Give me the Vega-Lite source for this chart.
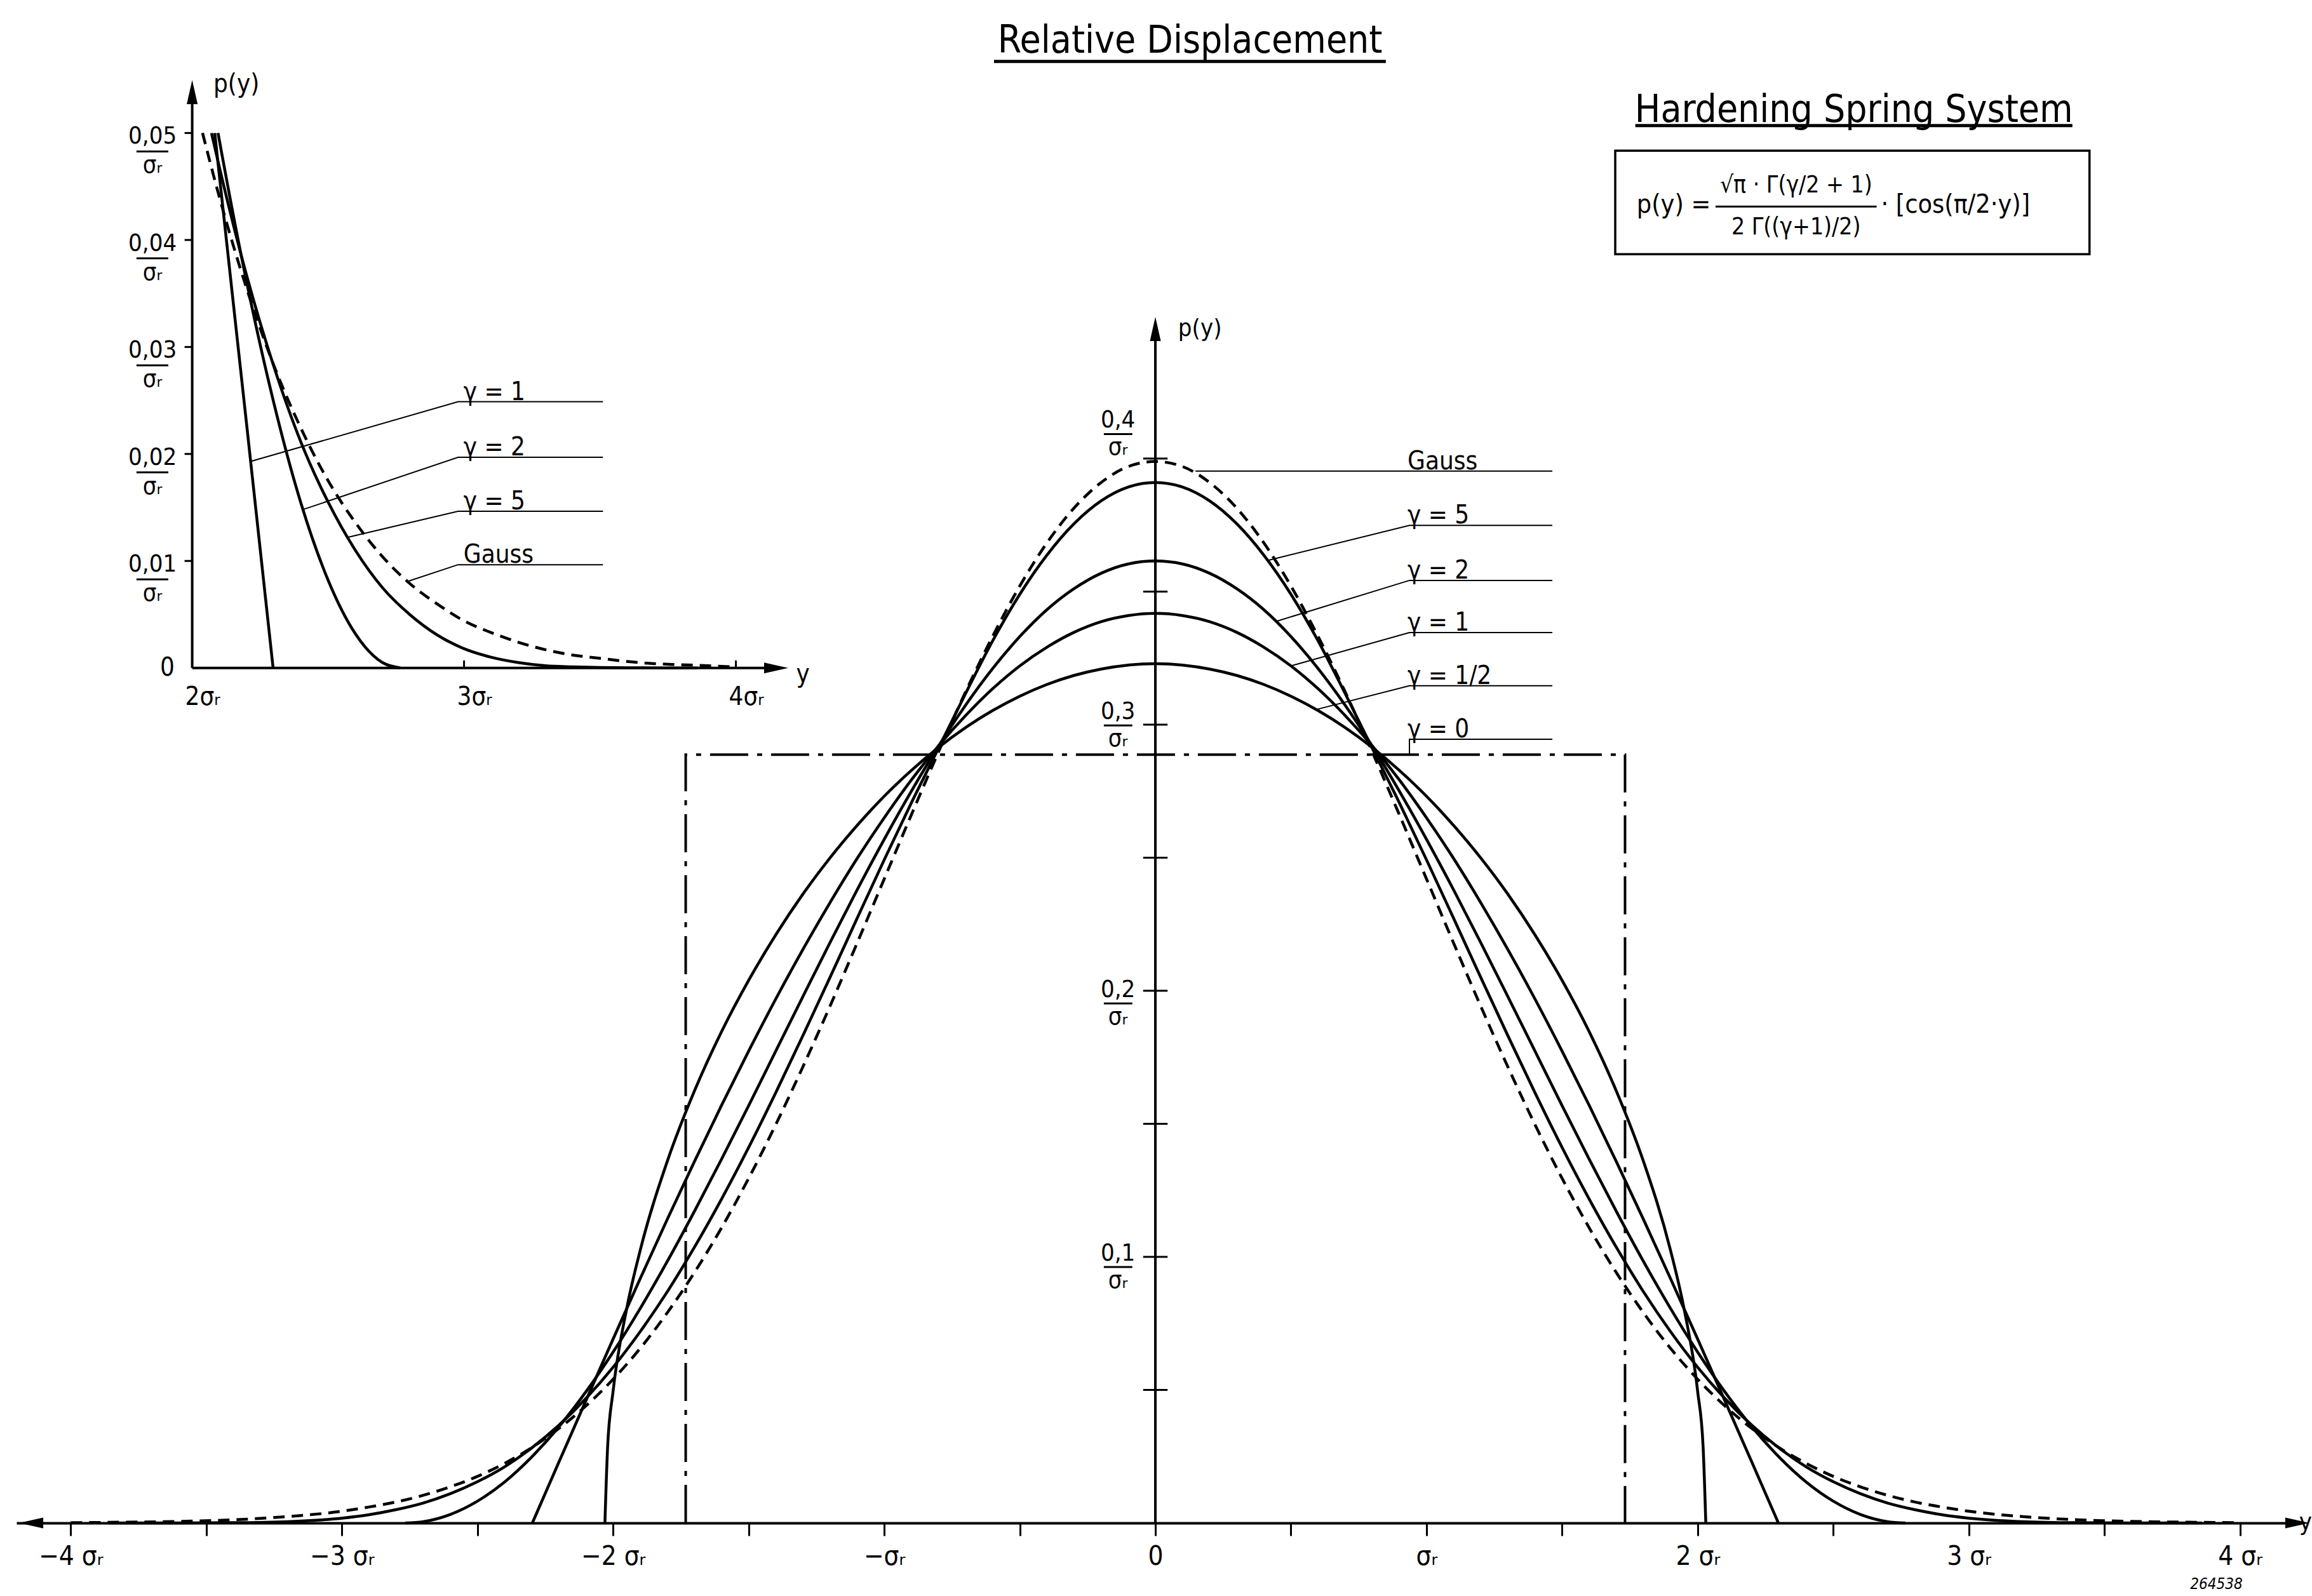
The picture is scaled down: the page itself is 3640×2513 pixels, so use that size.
{
"$schema": "https://vega.github.io/schema/vega-lite/v6.json",
"width": 3586, "height": 2338,
"autosize": {"type": "none"},
"padding": {"left": 26, "top": 60, "right": 28, "bottom": 115},
"background": "white",
"config": {
 "view": {"stroke": null},
 "text": {"font": "DejaVu Sans Condensed, Liberation Sans Narrow, DejaVu Sans", "fill": "black"},
 "axis": {"labelFont": "DejaVu Sans Condensed, Liberation Sans Narrow, DejaVu Sans", "labelColor": "black", "domainColor": "black", "tickColor": "black", "grid": false}
},
"datasets": {
 "curves": [
  {"g":"G","x":-4,"y":0.0001},{"g":"G","x":-3.8,"y":0.0003},{"g":"G","x":-3.6,"y":0.0006},{"g":"G","x":-3.4,"y":0.0012},{"g":"G","x":-3.2,"y":0.0024},{"g":"G","x":-3,"y":0.0044},{"g":"G","x":-2.9,"y":0.006},{"g":"G","x":-2.8,"y":0.0079},{"g":"G","x":-2.7,"y":0.0104},{"g":"G","x":-2.6,"y":0.0136},{"g":"G","x":-2.5,"y":0.0175},{"g":"G","x":-2.4,"y":0.0224},{"g":"G","x":-2.3,"y":0.0283},{"g":"G","x":-2.2,"y":0.0355},{"g":"G","x":-2.1,"y":0.044},{"g":"G","x":-2,"y":0.054},{"g":"G","x":-1.9,"y":0.0656},{"g":"G","x":-1.8,"y":0.079},{"g":"G","x":-1.7,"y":0.0941},{"g":"G","x":-1.6,"y":0.1109},{"g":"G","x":-1.5,"y":0.1295},{"g":"G","x":-1.4,"y":0.1497},{"g":"G","x":-1.3,"y":0.1714},{"g":"G","x":-1.2,"y":0.1942},{"g":"G","x":-1.1,"y":0.2179},{"g":"G","x":-1,"y":0.242},{"g":"G","x":-0.9,"y":0.2661},{"g":"G","x":-0.8,"y":0.2897},{"g":"G","x":-0.7,"y":0.3123},{"g":"G","x":-0.6,"y":0.3332},{"g":"G","x":-0.5,"y":0.3521},{"g":"G","x":-0.4,"y":0.3683},{"g":"G","x":-0.3,"y":0.3814},{"g":"G","x":-0.2,"y":0.391},{"g":"G","x":-0.1,"y":0.397},
  {"g":"G","x":0,"y":0.3989},
  {"g":"G","x":0.1,"y":0.397},{"g":"G","x":0.2,"y":0.391},{"g":"G","x":0.3,"y":0.3814},{"g":"G","x":0.4,"y":0.3683},{"g":"G","x":0.5,"y":0.3521},{"g":"G","x":0.6,"y":0.3332},{"g":"G","x":0.7,"y":0.3123},{"g":"G","x":0.8,"y":0.2897},{"g":"G","x":0.9,"y":0.2661},{"g":"G","x":1,"y":0.242},{"g":"G","x":1.1,"y":0.2179},{"g":"G","x":1.2,"y":0.1942},{"g":"G","x":1.3,"y":0.1714},{"g":"G","x":1.4,"y":0.1497},{"g":"G","x":1.5,"y":0.1295},{"g":"G","x":1.6,"y":0.1109},{"g":"G","x":1.7,"y":0.0941},{"g":"G","x":1.8,"y":0.079},{"g":"G","x":1.9,"y":0.0656},{"g":"G","x":2,"y":0.054},{"g":"G","x":2.1,"y":0.044},{"g":"G","x":2.2,"y":0.0355},{"g":"G","x":2.3,"y":0.0283},{"g":"G","x":2.4,"y":0.0224},{"g":"G","x":2.5,"y":0.0175},{"g":"G","x":2.6,"y":0.0136},{"g":"G","x":2.7,"y":0.0104},{"g":"G","x":2.8,"y":0.0079},{"g":"G","x":2.9,"y":0.006},{"g":"G","x":3,"y":0.0044},{"g":"G","x":3.2,"y":0.0024},{"g":"G","x":3.4,"y":0.0012},{"g":"G","x":3.6,"y":0.0006},{"g":"G","x":3.8,"y":0.0003},{"g":"G","x":4,"y":0.0001},

  {"g":"5","x":-3.86,"y":0},{"g":"5","x":-3.6,"y":0.00001},{"g":"5","x":-3.4,"y":0.0001},{"g":"5","x":-3.2,"y":0.0005},{"g":"5","x":-3,"y":0.0018},{"g":"5","x":-2.9,"y":0.0031},{"g":"5","x":-2.8,"y":0.005},{"g":"5","x":-2.7,"y":0.0075},{"g":"5","x":-2.6,"y":0.011},{"g":"5","x":-2.5,"y":0.0155},{"g":"5","x":-2.4,"y":0.0211},{"g":"5","x":-2.3,"y":0.0282},{"g":"5","x":-2.2,"y":0.0367},{"g":"5","x":-2.1,"y":0.0468},{"g":"5","x":-2,"y":0.0585},{"g":"5","x":-1.9,"y":0.0719},{"g":"5","x":-1.8,"y":0.0869},{"g":"5","x":-1.7,"y":0.1036},{"g":"5","x":-1.6,"y":0.1217},{"g":"5","x":-1.5,"y":0.1411},{"g":"5","x":-1.4,"y":0.1617},{"g":"5","x":-1.3,"y":0.1831},{"g":"5","x":-1.2,"y":0.205},{"g":"5","x":-1.1,"y":0.2272},{"g":"5","x":-1,"y":0.2492},{"g":"5","x":-0.9,"y":0.2706},{"g":"5","x":-0.8,"y":0.2911},{"g":"5","x":-0.7,"y":0.3117},{"g":"5","x":-0.6,"y":0.3315},{"g":"5","x":-0.5,"y":0.349},{"g":"5","x":-0.4,"y":0.3637},{"g":"5","x":-0.3,"y":0.3755},{"g":"5","x":-0.2,"y":0.3841},{"g":"5","x":-0.1,"y":0.3893},
  {"g":"5","x":0,"y":0.391},
  {"g":"5","x":0.1,"y":0.3893},{"g":"5","x":0.2,"y":0.3841},{"g":"5","x":0.3,"y":0.3755},{"g":"5","x":0.4,"y":0.3637},{"g":"5","x":0.5,"y":0.349},{"g":"5","x":0.6,"y":0.3315},{"g":"5","x":0.7,"y":0.3117},{"g":"5","x":0.8,"y":0.2911},{"g":"5","x":0.9,"y":0.2706},{"g":"5","x":1,"y":0.2492},{"g":"5","x":1.1,"y":0.2272},{"g":"5","x":1.2,"y":0.205},{"g":"5","x":1.3,"y":0.1831},{"g":"5","x":1.4,"y":0.1617},{"g":"5","x":1.5,"y":0.1411},{"g":"5","x":1.6,"y":0.1217},{"g":"5","x":1.7,"y":0.1036},{"g":"5","x":1.8,"y":0.0869},{"g":"5","x":1.9,"y":0.0719},{"g":"5","x":2,"y":0.0585},{"g":"5","x":2.1,"y":0.0468},{"g":"5","x":2.2,"y":0.0367},{"g":"5","x":2.3,"y":0.0282},{"g":"5","x":2.4,"y":0.0211},{"g":"5","x":2.5,"y":0.0155},{"g":"5","x":2.6,"y":0.011},{"g":"5","x":2.7,"y":0.0075},{"g":"5","x":2.8,"y":0.005},{"g":"5","x":2.9,"y":0.0031},{"g":"5","x":3,"y":0.0018},{"g":"5","x":3.2,"y":0.0005},{"g":"5","x":3.4,"y":0.0001},{"g":"5","x":3.6,"y":0.00001},{"g":"5","x":3.86,"y":0},

  {"g":"2","x":-2.766,"y":0},{"g":"2","x":-2.7,"y":0.0005},{"g":"2","x":-2.6,"y":0.0032},{"g":"2","x":-2.5,"y":0.0082},{"g":"2","x":-2.4,"y":0.0154},{"g":"2","x":-2.3,"y":0.0248},{"g":"2","x":-2.2,"y":0.0361},{"g":"2","x":-2.1,"y":0.0493},{"g":"2","x":-2,"y":0.0642},{"g":"2","x":-1.9,"y":0.0806},{"g":"2","x":-1.8,"y":0.0983},{"g":"2","x":-1.7,"y":0.1171},{"g":"2","x":-1.6,"y":0.1367},{"g":"2","x":-1.5,"y":0.1568},{"g":"2","x":-1.4,"y":0.1773},{"g":"2","x":-1.3,"y":0.1978},{"g":"2","x":-1.2,"y":0.2181},{"g":"2","x":-1.1,"y":0.2379},{"g":"2","x":-1,"y":0.2569},{"g":"2","x":-0.9,"y":0.275},{"g":"2","x":-0.8,"y":0.2919},{"g":"2","x":-0.7,"y":0.3073},{"g":"2","x":-0.6,"y":0.3211},{"g":"2","x":-0.5,"y":0.3331},{"g":"2","x":-0.4,"y":0.3432},{"g":"2","x":-0.3,"y":0.3511},{"g":"2","x":-0.2,"y":0.3569},{"g":"2","x":-0.1,"y":0.3604},
  {"g":"2","x":0,"y":0.3615},
  {"g":"2","x":0.1,"y":0.3604},{"g":"2","x":0.2,"y":0.3569},{"g":"2","x":0.3,"y":0.3511},{"g":"2","x":0.4,"y":0.3432},{"g":"2","x":0.5,"y":0.3331},{"g":"2","x":0.6,"y":0.3211},{"g":"2","x":0.7,"y":0.3073},{"g":"2","x":0.8,"y":0.2919},{"g":"2","x":0.9,"y":0.275},{"g":"2","x":1,"y":0.2569},{"g":"2","x":1.1,"y":0.2379},{"g":"2","x":1.2,"y":0.2181},{"g":"2","x":1.3,"y":0.1978},{"g":"2","x":1.4,"y":0.1773},{"g":"2","x":1.5,"y":0.1568},{"g":"2","x":1.6,"y":0.1367},{"g":"2","x":1.7,"y":0.1171},{"g":"2","x":1.8,"y":0.0983},{"g":"2","x":1.9,"y":0.0806},{"g":"2","x":2,"y":0.0642},{"g":"2","x":2.1,"y":0.0493},{"g":"2","x":2.2,"y":0.0361},{"g":"2","x":2.3,"y":0.0248},{"g":"2","x":2.4,"y":0.0154},{"g":"2","x":2.5,"y":0.0082},{"g":"2","x":2.6,"y":0.0032},{"g":"2","x":2.7,"y":0.0005},{"g":"2","x":2.766,"y":0},

  {"g":"1","x":-2.2976,"y":0},{"g":"1","x":-2.2,"y":0.0228},{"g":"1","x":-2.1,"y":0.046},{"g":"1","x":-2,"y":0.0691},{"g":"1","x":-1.9,"y":0.0918},{"g":"1","x":-1.8,"y":0.1141},{"g":"1","x":-1.7,"y":0.1358},{"g":"1","x":-1.6,"y":0.1569},{"g":"1","x":-1.5,"y":0.1773},{"g":"1","x":-1.4,"y":0.1969},{"g":"1","x":-1.3,"y":0.2155},{"g":"1","x":-1.2,"y":0.2331},{"g":"1","x":-1.1,"y":0.2497},{"g":"1","x":-1,"y":0.265},{"g":"1","x":-0.9,"y":0.2792},{"g":"1","x":-0.8,"y":0.292},{"g":"1","x":-0.7,"y":0.3034},{"g":"1","x":-0.6,"y":0.3135},{"g":"1","x":-0.5,"y":0.3221},{"g":"1","x":-0.4,"y":0.3291},{"g":"1","x":-0.3,"y":0.3347},{"g":"1","x":-0.2,"y":0.3387},{"g":"1","x":-0.1,"y":0.341},
  {"g":"1","x":0,"y":0.3418},
  {"g":"1","x":0.1,"y":0.341},{"g":"1","x":0.2,"y":0.3387},{"g":"1","x":0.3,"y":0.3347},{"g":"1","x":0.4,"y":0.3291},{"g":"1","x":0.5,"y":0.3221},{"g":"1","x":0.6,"y":0.3135},{"g":"1","x":0.7,"y":0.3034},{"g":"1","x":0.8,"y":0.292},{"g":"1","x":0.9,"y":0.2792},{"g":"1","x":1,"y":0.265},{"g":"1","x":1.1,"y":0.2497},{"g":"1","x":1.2,"y":0.2331},{"g":"1","x":1.3,"y":0.2155},{"g":"1","x":1.4,"y":0.1969},{"g":"1","x":1.5,"y":0.1773},{"g":"1","x":1.6,"y":0.1569},{"g":"1","x":1.7,"y":0.1358},{"g":"1","x":1.8,"y":0.1141},{"g":"1","x":1.9,"y":0.0918},{"g":"1","x":2,"y":0.0691},{"g":"1","x":2.1,"y":0.046},{"g":"1","x":2.2,"y":0.0228},{"g":"1","x":2.2976,"y":0},

  {"g":"h","x":-2.03,"y":0},{"g":"h","x":-2.02,"y":0.0287},{"g":"h","x":-2,"y":0.0494},{"g":"h","x":-1.95,"y":0.0804},{"g":"h","x":-1.9,"y":0.1024},{"g":"h","x":-1.8,"y":0.1359},{"g":"h","x":-1.7,"y":0.1623},{"g":"h","x":-1.6,"y":0.1846},{"g":"h","x":-1.5,"y":0.2039},{"g":"h","x":-1.4,"y":0.221},{"g":"h","x":-1.3,"y":0.2363},{"g":"h","x":-1.2,"y":0.2499},{"g":"h","x":-1.1,"y":0.2621},{"g":"h","x":-1,"y":0.2731},{"g":"h","x":-0.9,"y":0.2828},{"g":"h","x":-0.8,"y":0.2914},{"g":"h","x":-0.7,"y":0.2989},{"g":"h","x":-0.6,"y":0.3053},{"g":"h","x":-0.5,"y":0.3107},{"g":"h","x":-0.4,"y":0.3151},{"g":"h","x":-0.3,"y":0.3185},{"g":"h","x":-0.2,"y":0.3209},{"g":"h","x":-0.1,"y":0.3224},
  {"g":"h","x":0,"y":0.3229},
  {"g":"h","x":0.1,"y":0.3224},{"g":"h","x":0.2,"y":0.3209},{"g":"h","x":0.3,"y":0.3185},{"g":"h","x":0.4,"y":0.3151},{"g":"h","x":0.5,"y":0.3107},{"g":"h","x":0.6,"y":0.3053},{"g":"h","x":0.7,"y":0.2989},{"g":"h","x":0.8,"y":0.2914},{"g":"h","x":0.9,"y":0.2828},{"g":"h","x":1,"y":0.2731},{"g":"h","x":1.1,"y":0.2621},{"g":"h","x":1.2,"y":0.2499},{"g":"h","x":1.3,"y":0.2363},{"g":"h","x":1.4,"y":0.221},{"g":"h","x":1.5,"y":0.2039},{"g":"h","x":1.6,"y":0.1846},{"g":"h","x":1.7,"y":0.1623},{"g":"h","x":1.8,"y":0.1359},{"g":"h","x":1.9,"y":0.1024},{"g":"h","x":1.95,"y":0.0804},{"g":"h","x":2,"y":0.0494},{"g":"h","x":2.02,"y":0.0287},{"g":"h","x":2.03,"y":0}
 ],
 "inset": [
  {"g":"G","x":2.038,"y":0.05},{"g":"G","x":2.1,"y":0.044},{"g":"G","x":2.2,"y":0.0355},{"g":"G","x":2.3,"y":0.0283},{"g":"G","x":2.4,"y":0.0224},{"g":"G","x":2.5,"y":0.0175},{"g":"G","x":2.6,"y":0.0136},{"g":"G","x":2.7,"y":0.0104},{"g":"G","x":2.8,"y":0.0079},{"g":"G","x":2.9,"y":0.006},{"g":"G","x":3,"y":0.0044},{"g":"G","x":3.1,"y":0.0033},{"g":"G","x":3.2,"y":0.0024},{"g":"G","x":3.3,"y":0.0017},{"g":"G","x":3.4,"y":0.0012},{"g":"G","x":3.5,"y":0.0009},{"g":"G","x":3.6,"y":0.0006},{"g":"G","x":3.7,"y":0.0004},{"g":"G","x":3.8,"y":0.0003},{"g":"G","x":3.9,"y":0.0002},{"g":"G","x":4,"y":0.0001},
  {"g":"5","x":2.071,"y":0.05},{"g":"5","x":2.1,"y":0.0468},{"g":"5","x":2.2,"y":0.0367},{"g":"5","x":2.3,"y":0.0282},{"g":"5","x":2.4,"y":0.0211},{"g":"5","x":2.5,"y":0.0155},{"g":"5","x":2.6,"y":0.011},{"g":"5","x":2.7,"y":0.0075},{"g":"5","x":2.8,"y":0.005},{"g":"5","x":2.9,"y":0.0031},{"g":"5","x":3,"y":0.0018},{"g":"5","x":3.1,"y":0.001},{"g":"5","x":3.2,"y":0.0005},{"g":"5","x":3.3,"y":0.0002},{"g":"5","x":3.4,"y":0.0001},{"g":"5","x":3.6,"y":0.00001},{"g":"5","x":3.86,"y":0},
  {"g":"2","x":2.095,"y":0.05},{"g":"2","x":2.1,"y":0.0493},{"g":"2","x":2.2,"y":0.0361},{"g":"2","x":2.3,"y":0.0248},{"g":"2","x":2.4,"y":0.0154},{"g":"2","x":2.5,"y":0.0082},{"g":"2","x":2.6,"y":0.0032},{"g":"2","x":2.7,"y":0.0005},{"g":"2","x":2.766,"y":0},
  {"g":"1","x":2.083,"y":0.05},{"g":"1","x":2.1,"y":0.046},{"g":"1","x":2.2,"y":0.0228},{"g":"1","x":2.2976,"y":0}
 ],
 "uni": [
  {"o":1,"x":-1.7321,"y":0},{"o":2,"x":-1.7321,"y":0.2887},{"o":3,"x":1.7321,"y":0.2887},{"o":4,"x":1.7321,"y":0}
 ],
 "leaders": [
  {"g":"G","o":1,"x":0.148,"y":0.3953},{"g":"G","o":2,"x":1.464,"y":0.3953},
  {"g":"5","o":1,"x":0.414,"y":0.3617},{"g":"5","o":2,"x":0.937,"y":0.3749},{"g":"5","o":3,"x":1.464,"y":0.3749},
  {"g":"2","o":1,"x":0.445,"y":0.3388},{"g":"2","o":2,"x":0.937,"y":0.3542},{"g":"2","o":3,"x":1.464,"y":0.3542},
  {"g":"1","o":1,"x":0.5,"y":0.3221},{"g":"1","o":2,"x":0.937,"y":0.3346},{"g":"1","o":3,"x":1.464,"y":0.3346},
  {"g":"h","o":1,"x":0.594,"y":0.3057},{"g":"h","o":2,"x":0.937,"y":0.3146},{"g":"h","o":3,"x":1.464,"y":0.3146},
  {"g":"0","o":1,"x":0.937,"y":0.2887},{"g":"0","o":2,"x":0.937,"y":0.2945},{"g":"0","o":3,"x":1.464,"y":0.2945}
 ],
 "labels": [
  {"t":"Gauss","x":0.93,"y":0.3953},{"t":"γ = 5","x":0.93,"y":0.3749},{"t":"γ = 2","x":0.93,"y":0.3542},{"t":"γ = 1","x":0.93,"y":0.3346},{"t":"γ = 1/2","x":0.93,"y":0.3146},{"t":"γ = 0","x":0.93,"y":0.2945}
 ],
 "segs": [
  {"k":"axis","x":0,"x2":0,"y":0,"y2":0.447},
  {"k":"tick","x":-0.045,"x2":0.045,"y":0.05,"y2":0.05},{"k":"tick","x":-0.045,"x2":0.045,"y":0.1,"y2":0.1},{"k":"tick","x":-0.045,"x2":0.045,"y":0.15,"y2":0.15},{"k":"tick","x":-0.045,"x2":0.045,"y":0.2,"y2":0.2},{"k":"tick","x":-0.045,"x2":0.045,"y":0.25,"y2":0.25},{"k":"tick","x":-0.045,"x2":0.045,"y":0.3,"y2":0.3},{"k":"tick","x":-0.045,"x2":0.045,"y":0.35,"y2":0.35},{"k":"tick","x":-0.045,"x2":0.045,"y":0.4,"y2":0.4},
  {"k":"under","x":-0.595,"x2":0.85,"y":0.5492,"y2":0.5492},
  {"k":"under","x":1.77,"x2":3.382,"y":0.5251,"y2":0.5251},
  {"k":"bar","x":2.066,"x2":2.66,"y":0.4947,"y2":0.4947}
 ],
 "arrows": [
  {"d":"up","x":0,"y":0.4487},{"d":"left","x":-4.146,"y":0},{"d":"right","x":4.2115,"y":0}
 ],
 "ylab": [{"t":"0,1","x":-0.138,"y":0.1005},{"t":"0,2","x":-0.138,"y":0.1995},{"t":"0,3","x":-0.138,"y":0.304},{"t":"0,4","x":-0.138,"y":0.4135}],
 "ybars": [{"x":-0.19,"x2":-0.085,"y":0.1005},{"x":-0.19,"x2":-0.085,"y":0.1995},{"x":-0.19,"x2":-0.085,"y":0.304},{"x":-0.19,"x2":-0.085,"y":0.4135}],
 "notes": [
  {"k":"title","t":"Relative Displacement","x":0.128,"y":0.5525},
  {"k":"title","t":"Hardening Spring System","x":2.576,"y":0.5265},
  {"k":"fl","t":"p(y) =","x":1.775,"y":0.4952},
  {"k":"fc","t":"√π · Γ(γ/2 + 1)","x":2.363,"y":0.5026},
  {"k":"fc","t":"2 Γ((γ+1)/2)","x":2.363,"y":0.4868},
  {"k":"fl","t":"· [cos(π/2·y)]","x":2.676,"y":0.4952},
  {"k":"ax","t":"p(y)","x":0.084,"y":0.4487},
  {"k":"ax","t":"y","x":4.218,"y":0},
  {"k":"id","t":"264538","x":3.913,"y":-0.0232}
 ],
 "box": [{"x":1.696,"x2":3.445,"y":0.4768,"y2":0.5157}],
 "ileaders": [
  {"g":"1","o":1,"x":2.215,"y":0.0193},{"g":"1","o":2,"x":2.978,"y":0.02488},{"g":"1","o":3,"x":3.511,"y":0.02488},
  {"g":"2","o":1,"x":2.407,"y":0.0148},{"g":"2","o":2,"x":2.978,"y":0.01969},{"g":"2","o":3,"x":3.511,"y":0.01969},
  {"g":"5","o":1,"x":2.57,"y":0.0122},{"g":"5","o":2,"x":2.978,"y":0.01464},{"g":"5","o":3,"x":3.511,"y":0.01464},
  {"g":"G","o":1,"x":2.794,"y":0.0081},{"g":"G","o":2,"x":2.978,"y":0.00965},{"g":"G","o":3,"x":3.511,"y":0.00965}
 ],
 "ilabels": [
  {"t":"γ = 1","x":2.998,"y":0.02488},{"t":"γ = 2","x":2.998,"y":0.01969},{"t":"γ = 5","x":2.998,"y":0.01464},{"t":"Gauss","x":2.998,"y":0.00965}
 ],
 "isegs": [
  {"k":"axis","x":2,"x2":2,"y":0,"y2":0.0538},
  {"k":"axis","x":2,"x2":4.148,"y":0,"y2":0},
  {"k":"tick","x":3,"x2":3,"y":0,"y2":0.0007},
  {"k":"tick","x":4,"x2":4,"y":0,"y2":0.0007},
  {"k":"tick","x":1.972,"x2":2,"y":0.01,"y2":0.01},{"k":"tick","x":1.972,"x2":2,"y":0.02,"y2":0.02},{"k":"tick","x":1.972,"x2":2,"y":0.03,"y2":0.03},{"k":"tick","x":1.972,"x2":2,"y":0.04,"y2":0.04},{"k":"tick","x":1.972,"x2":2,"y":0.05,"y2":0.05}
 ],
 "iarrows": [{"d":"up","x":2,"y":0.05382},{"d":"right","x":4.1481,"y":0}],
 "iylab": [{"t":"0,01","x":1.854,"y":0.01},{"t":"0,02","x":1.854,"y":0.02},{"t":"0,03","x":1.854,"y":0.03},{"t":"0,04","x":1.854,"y":0.04},{"t":"0,05","x":1.854,"y":0.05}],
 "iybars": [{"x":1.795,"x2":1.912,"y":0.01},{"x":1.795,"x2":1.912,"y":0.02},{"x":1.795,"x2":1.912,"y":0.03},{"x":1.795,"x2":1.912,"y":0.04},{"x":1.795,"x2":1.912,"y":0.05}],
 "inotes": [
  {"k":"l","t":"p(y)","x":2.078,"y":0.05454},
  {"k":"l","t":"y","x":4.222,"y":-0.0006},
  {"k":"r","t":"0","x":1.935,"y":0}
 ]
},
"layer": [
 {
  "encoding": {
   "x": {"field": "x", "type": "quantitative", "scale": {"domain": [-4.2, 4.2], "nice": false, "zero": false},
    "axis": {"orient": "bottom", "title": null, "values": [-4,-3.5,-3,-2.5,-2,-1.5,-1,-0.5,0,0.5,1,1.5,2,2.5,3,3.5,4],
     "domainWidth": 4, "tickWidth": 3, "tickSize": 20, "labelFontSize": 42, "labelPadding": 12,
     "labelFlush": false, "labelOverlap": false, "labelBound": false,
     "labelExpr": "datum.value == 0 ? '0' : datum.value == 1 ? 'σᵣ' : datum.value == -1 ? '−σᵣ' : datum.value % 1 != 0 ? '' : datum.value < 0 ? '−' + (-datum.value) + ' σᵣ' : datum.value + ' σᵣ'"}},
   "y": {"field": "y", "type": "quantitative", "scale": {"domain": [0, 0.558], "nice": false, "zero": false}, "axis": null}
  },
  "layer": [
   {"data": {"name": "curves"}, "transform": [{"filter": "datum.g != 'G'"}],
    "mark": {"type": "line", "interpolate": "monotone", "color": "black", "strokeWidth": 4.5},
    "encoding": {"detail": {"field": "g"}}},
   {"data": {"name": "curves"}, "transform": [{"filter": "datum.g == 'G'"}],
    "mark": {"type": "line", "interpolate": "monotone", "color": "black", "strokeWidth": 4.5, "strokeDash": [18, 11]},
    "encoding": {"detail": {"field": "g"}}},
   {"data": {"name": "uni"},
    "mark": {"type": "line", "color": "black", "strokeWidth": 4, "strokeDash": [60, 14, 8, 14]},
    "encoding": {"order": {"field": "o"}}},
   {"data": {"name": "leaders"},
    "mark": {"type": "line", "color": "black", "strokeWidth": 2},
    "encoding": {"detail": {"field": "g"}, "order": {"field": "o"}}},
   {"data": {"name": "labels"},
    "mark": {"type": "text", "align": "left", "baseline": "alphabetic", "fontSize": 40, "dy": -3},
    "encoding": {"text": {"field": "t"}}},
   {"data": {"name": "segs"}, "transform": [{"filter": "datum.k == 'axis'"}],
    "mark": {"type": "rule", "color": "black", "strokeWidth": 4},
    "encoding": {"x2": {"field": "x2"}, "y2": {"field": "y2"}}},
   {"data": {"name": "segs"}, "transform": [{"filter": "datum.k == 'tick'"}],
    "mark": {"type": "rule", "color": "black", "strokeWidth": 3},
    "encoding": {"x2": {"field": "x2"}, "y2": {"field": "y2"}}},
   {"data": {"name": "segs"}, "transform": [{"filter": "datum.k == 'under'"}],
    "mark": {"type": "rule", "color": "black", "strokeWidth": 5},
    "encoding": {"x2": {"field": "x2"}, "y2": {"field": "y2"}}},
   {"data": {"name": "segs"}, "transform": [{"filter": "datum.k == 'bar'"}],
    "mark": {"type": "rule", "color": "black", "strokeWidth": 3},
    "encoding": {"x2": {"field": "x2"}, "y2": {"field": "y2"}}},
   {"data": {"name": "arrows"},
    "mark": {"type": "point", "size": 1444, "filled": true, "color": "black", "opacity": 1},
    "encoding": {"shape": {"field": "d", "type": "nominal", "legend": null,
     "scale": {"domain": ["up", "left", "right"], "range": ["M0,-1L0.45,1L-0.45,1Z", "M-1,0L1,-0.45L1,0.45Z", "M1,0L-1,-0.45L-1,0.45Z"]}}}},
   {"data": {"name": "ylab"},
    "mark": {"type": "text", "align": "center", "baseline": "middle", "fontSize": 38, "dy": -3},
    "encoding": {"text": {"field": "t"}}},
   {"data": {"name": "ybars"},
    "mark": {"type": "rule", "color": "black", "strokeWidth": 3, "yOffset": 18},
    "encoding": {"x2": {"field": "x2"}}},
   {"data": {"name": "ylab"},
    "mark": {"type": "text", "text": "σᵣ", "align": "center", "baseline": "middle", "fontSize": 38, "dy": 40}},
   {"data": {"name": "notes"}, "transform": [{"filter": "datum.k == 'title'"}],
    "mark": {"type": "text", "align": "center", "baseline": "alphabetic", "fontSize": 60},
    "encoding": {"text": {"field": "t"}}},
   {"data": {"name": "notes"}, "transform": [{"filter": "datum.k == 'fl'"}],
    "mark": {"type": "text", "align": "left", "baseline": "middle", "fontSize": 41},
    "encoding": {"text": {"field": "t"}}},
   {"data": {"name": "notes"}, "transform": [{"filter": "datum.k == 'fc'"}],
    "mark": {"type": "text", "align": "center", "baseline": "middle", "fontSize": 37},
    "encoding": {"text": {"field": "t"}}},
   {"data": {"name": "notes"}, "transform": [{"filter": "datum.k == 'ax'"}],
    "mark": {"type": "text", "align": "left", "baseline": "middle", "fontSize": 38},
    "encoding": {"text": {"field": "t"}}},
   {"data": {"name": "notes"}, "transform": [{"filter": "datum.k == 'id'"}],
    "mark": {"type": "text", "align": "center", "baseline": "middle", "fontSize": 24, "fontStyle": "italic"},
    "encoding": {"text": {"field": "t"}}},
   {"data": {"name": "box"},
    "mark": {"type": "rect", "fill": "transparent", "stroke": "black", "strokeWidth": 3.5},
    "encoding": {"x2": {"field": "x2"}, "y2": {"field": "y2"}}}
  ]
 },
 {
  "encoding": {
   "x": {"field": "x", "type": "quantitative", "scale": {"domain": [1.35374, 9.73224], "nice": false, "zero": false},
    "axis": {"orient": "bottom", "offset": -1346.3, "title": null, "values": [2, 3, 4], "domain": false, "ticks": false,
     "labelExpr": "datum.value + 'σᵣ'", "labelFontSize": 40, "labelPadding": 26, "labelOffset": 16,
     "labelFlush": false, "labelOverlap": false, "labelBound": false}},
   "y": {"field": "y", "type": "quantitative", "scale": {"domain": [-0.079918, 0.058869], "nice": false, "zero": false}, "axis": null}
  },
  "layer": [
   {"data": {"name": "inset"}, "transform": [{"filter": "datum.g != 'G'"}],
    "mark": {"type": "line", "interpolate": "monotone", "color": "black", "strokeWidth": 4.5},
    "encoding": {"detail": {"field": "g"}}},
   {"data": {"name": "inset"}, "transform": [{"filter": "datum.g == 'G'"}],
    "mark": {"type": "line", "interpolate": "monotone", "color": "black", "strokeWidth": 4.5, "strokeDash": [18, 11]},
    "encoding": {"detail": {"field": "g"}}},
   {"data": {"name": "ileaders"},
    "mark": {"type": "line", "color": "black", "strokeWidth": 2},
    "encoding": {"detail": {"field": "g"}, "order": {"field": "o"}}},
   {"data": {"name": "ilabels"},
    "mark": {"type": "text", "align": "left", "baseline": "alphabetic", "fontSize": 40, "dy": -3},
    "encoding": {"text": {"field": "t"}}},
   {"data": {"name": "isegs"}, "transform": [{"filter": "datum.k == 'axis'"}],
    "mark": {"type": "rule", "color": "black", "strokeWidth": 4},
    "encoding": {"x2": {"field": "x2"}, "y2": {"field": "y2"}}},
   {"data": {"name": "isegs"}, "transform": [{"filter": "datum.k == 'tick'"}],
    "mark": {"type": "rule", "color": "black", "strokeWidth": 3},
    "encoding": {"x2": {"field": "x2"}, "y2": {"field": "y2"}}},
   {"data": {"name": "iarrows"},
    "mark": {"type": "point", "size": 1444, "filled": true, "color": "black", "opacity": 1},
    "encoding": {"shape": {"field": "d", "type": "nominal", "legend": null,
     "scale": {"domain": ["up", "left", "right"], "range": ["M0,-1L0.45,1L-0.45,1Z", "M-1,0L1,-0.45L1,0.45Z", "M1,0L-1,-0.45L-1,0.45Z"]}}}},
   {"data": {"name": "iylab"},
    "mark": {"type": "text", "align": "center", "baseline": "middle", "fontSize": 38, "dy": 6},
    "encoding": {"text": {"field": "t"}}},
   {"data": {"name": "iybars"},
    "mark": {"type": "rule", "color": "black", "strokeWidth": 3, "yOffset": 29},
    "encoding": {"x2": {"field": "x2"}}},
   {"data": {"name": "iylab"},
    "mark": {"type": "text", "text": "σᵣ", "align": "center", "baseline": "middle", "fontSize": 38, "dy": 52}},
   {"data": {"name": "inotes"}, "transform": [{"filter": "datum.k == 'l'"}],
    "mark": {"type": "text", "align": "left", "baseline": "middle", "fontSize": 40},
    "encoding": {"text": {"field": "t"}}},
   {"data": {"name": "inotes"}, "transform": [{"filter": "datum.k == 'r'"}],
    "mark": {"type": "text", "align": "right", "baseline": "middle", "fontSize": 40},
    "encoding": {"text": {"field": "t"}}}
  ]
 }
],
"resolve": {"scale": {"x": "independent", "y": "independent"}}
}
